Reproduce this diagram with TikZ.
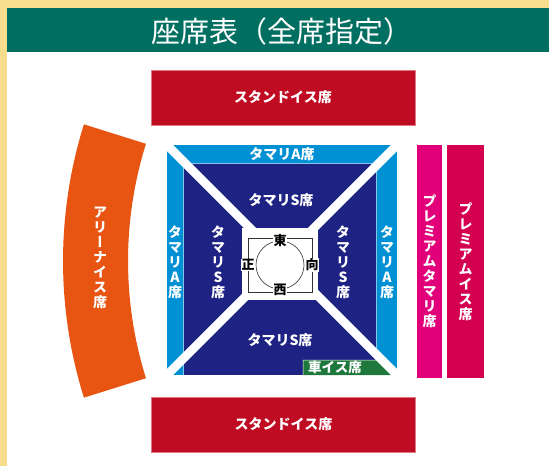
\documentclass[tikz,border=0pt]{standalone}
\usepackage{fontspec}
\newfontfamily\jpfont{Noto Sans CJK JP}
\newfontfamily\jpvfont[RawFeature=+vert]{Noto Sans CJK JP}
\usetikzlibrary{backgrounds}
\definecolor{frameyel}{RGB}{246,222,142}
\definecolor{bannergreen}{RGB}{0,110,96}
\definecolor{standred}{RGB}{192,12,34}
\definecolor{arenaorange}{RGB}{232,84,18}
\definecolor{tamalight}{RGB}{0,144,212}
\definecolor{tamanavy}{RGB}{30,34,130}
\definecolor{chairgreen}{RGB}{30,120,60}
\definecolor{prempink}{RGB}{226,0,122}
\definecolor{premred}{RGB}{212,0,80}
\tikzset{seat/.style={text=white,inner sep=0pt,font=\jpfont\bfseries\fontsize{14}{15}\selectfont}}
\tikzset{vseat/.style={seat,align=center,font=\jpvfont\bfseries\fontsize{14}{15}\selectfont}}
\tikzset{stand/.style={seat,fill=standred,draw=standred!55!white,line width=0.5pt,minimum width=264pt,minimum height=55pt}}
\tikzset{premium/.style={vseat,minimum height=233pt}}
\tikzset{hoko/.style={font=\jpfont\bfseries\fontsize{13}{13}\selectfont,fill=white,inner sep=0.6pt}}
\tikzset{aisle/.style={white,line width=8.5pt}}

\begin{document}
\begin{tikzpicture}[x=1pt,y=-1pt]
                \useasboundingbox (0,0) rectangle (549,466);
                \node[font=\jpfont\fontsize{29}{29}\selectfont,text=white] (title) at (282,31) {座席表（全席指定）};
                \node[stand] (sttop) at (283,97.5) {スタンドイス席};
                \node[stand] (stbot) at (283.5,424.5) {スタンドイス席};
                \node[vseat] (arena) at (100,258) {ア\\リ\\ー\\ナ\\イ\\ス\\席};
                \node[seat] (aN) at (282,154.5) {タマリA席};
                \node[vseat] (aW) at (175,262) {タ\\マ\\リ\\A\\席};
                \node[vseat] (aE) at (387,262) {タ\\マ\\リ\\A\\席};
                \node[seat] (sN) at (281,200) {タマリS席};
                \node[seat] (sS) at (280,340) {タマリS席};
                \node[vseat] (sW) at (218,262) {タ\\マ\\リ\\S\\席};
                \node[vseat] (sE) at (343,262) {タ\\マ\\リ\\S\\席};
                \node[seat,font=\jpfont\bfseries\fontsize{13.5}{14}\selectfont] (chair) at (335,367.5) {車イス席};
                \node[premium,fill=prempink,minimum width=25pt] (ptama) at (429.5,261.5) {プ\\レ\\ミ\\ア\\ム\\タ\\マ\\リ\\席};
                \node[premium,fill=premred,minimum width=37pt] (pisu) at (465.5,261.5) {プ\\レ\\ミ\\ア\\ム\\イ\\ス\\席};
                \node[hoko] (east) at (280,241) {東};
                \node[hoko] (west) at (280,290) {西};
                \node[hoko] (front) at (248,265) {正};
                \node[hoko] (back) at (312,265) {向};
                \coordinate (nw) at (167,145);
                \coordinate (ne) at (397,145);
                \coordinate (sw) at (167,375);
                \coordinate (se) at (397,375);
                \coordinate (ring) at (280,265);
                \begin{scope}[on background layer]
                    \fill[frameyel] (0,0) rectangle (549,466);
                    \fill[white] (7,52) rectangle (549,466);
                    \fill[bannergreen] (7,8) rectangle (549,52);
                    \fill[arenaorange] ([shift={(520,261)}]162.6:457) arc[start angle=162.6,end angle=197.4,radius=457]
                        -- ([shift={(520,261)}]197.4:392) arc[start angle=197.4,end angle=162.6,radius=392] -- cycle;
                    \fill[tamalight] (nw) rectangle (se);
                    \fill[tamanavy] (183,163) rectangle (376,375);
                    \draw[white!50!tamalight,line width=0.7pt] (183,375) -- (183,163) -- (376,163) -- (376,375);
                    \filldraw[fill=chairgreen,draw=white,line width=0.5pt] (303,375) -- (303,360) -- (382,360) -- (397,375);
                    \draw[aisle] (nw) -- ++(90,90);
                    \draw[aisle] (ne) -- ++(-90,90);
                    \draw[aisle] (sw) -- ++(90,-90);
                    \draw[aisle] (se) -- ++(-90,-90);
                    \fill[white] (242,228) rectangle (318,300);
                    \draw[black!80,line width=0.6pt] (248,238) rectangle (312,292);
                    \draw[black!80,line width=0.6pt] (ring) circle[radius=24];
                \end{scope}
\end{tikzpicture}
\end{document}
